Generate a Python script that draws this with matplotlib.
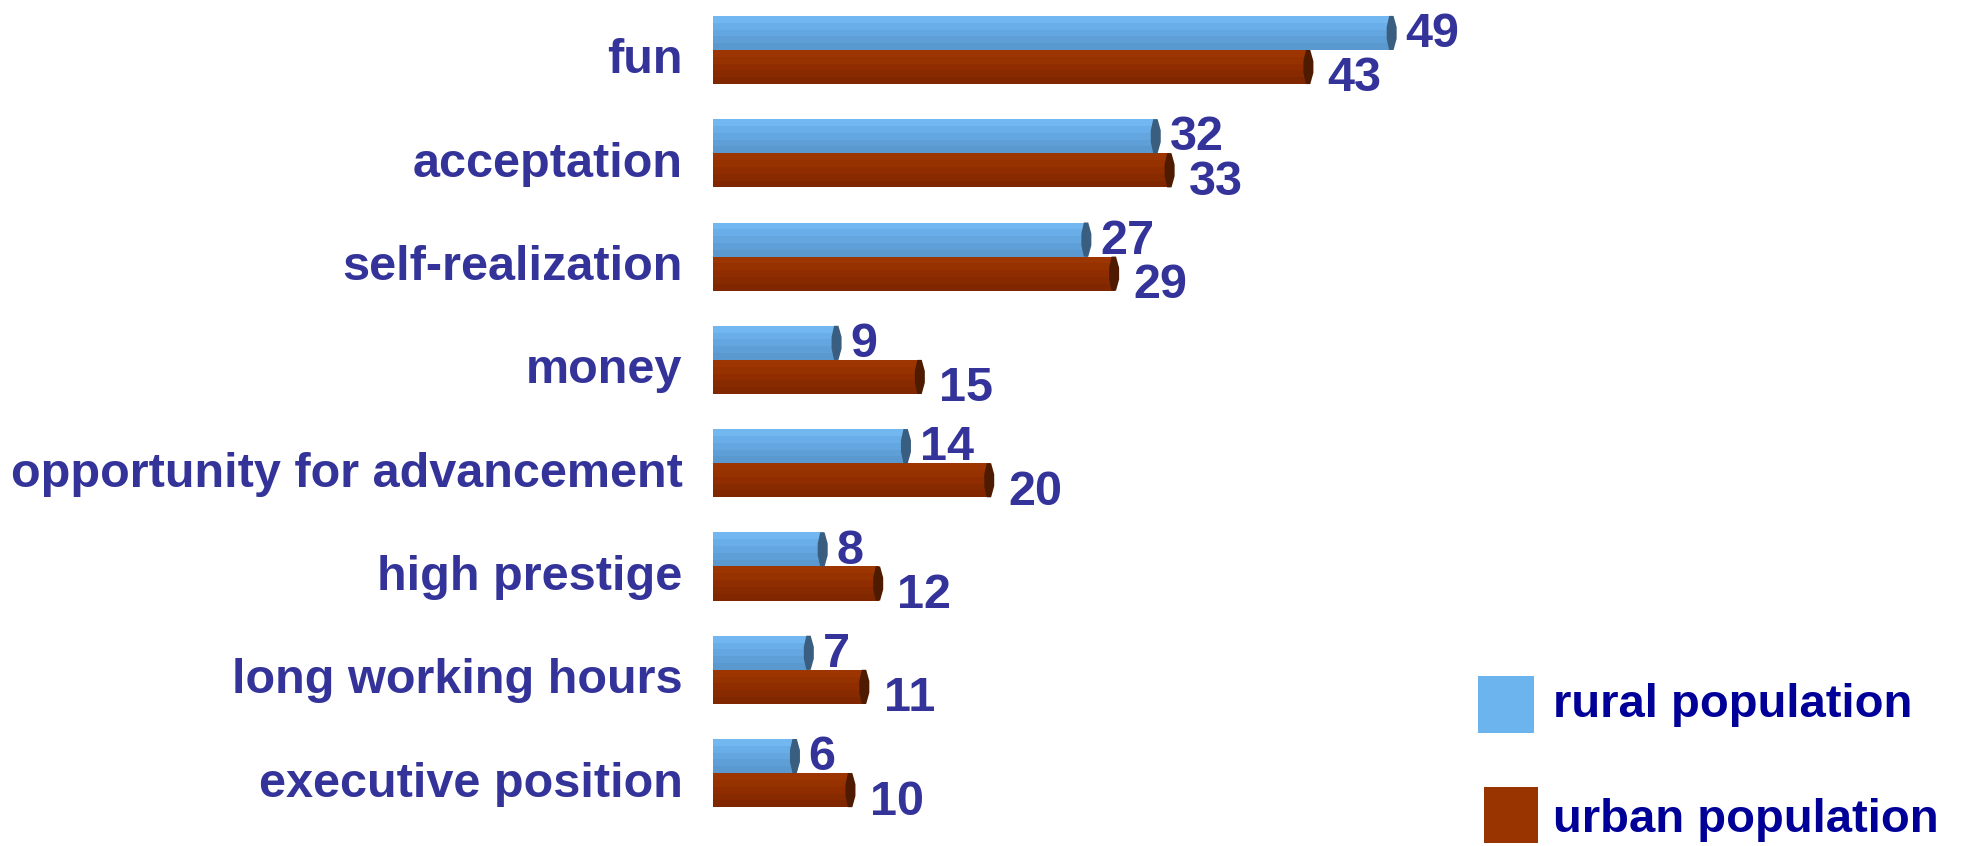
import matplotlib
matplotlib.use("Agg")
import matplotlib.pyplot as plt
import matplotlib.transforms as mtransforms
from matplotlib.patches import Polygon, Rectangle

# data
categories = ["fun", "acceptation", "self-realization", "money",
              "opportunity for advancement", "high prestige",
              "long working hours", "executive position"]
rural = [49, 32, 27, 9, 14, 8, 7, 6]
urban = [43, 33, 29, 15, 20, 12, 11, 10]
series_names = ["rural population", "urban population"]

plt.rcParams['font.family'] = ['Liberation Sans', 'DejaVu Sans']

label_col = '#333399'
legend_col = '#000099'
rural_shades = ['#72B7F0', '#69AEE8', '#63A6E0', '#5E9FD8', '#5A99D0']
urban_shades = ['#9C3500', '#963100', '#8F2D00', '#882A00', '#802700']
rural_cap = '#3A5E80'
urban_cap = '#4E1B00'

fig = plt.figure(figsize=(19.64, 8.46), dpi=100)
ax = fig.add_axes([0.363, 0.0, 0.537, 1.0])

h = 0.33


def prism_bar(ax, y_top, value, shades, cap):
    # stacked stripes give a shaded 3D look
    n = len(shades)
    sh = h / n
    for k, c in enumerate(shades):
        ax.barh(y_top + sh * (k + 0.5), value, height=sh, left=0,
                color=c, edgecolor='none', zorder=2)
    # end cap
    cw = 0.45
    pts = [(value - cw * 0.6, y_top), (value + cw * 0.1, y_top),
           (value + cw * 0.6, y_top + h * 0.33), (value + cw * 0.6, y_top + h * 0.67),
           (value + cw * 0.1, y_top + h), (value - cw * 0.6, y_top + h),
           (value - cw, y_top + h * 0.67), (value - cw, y_top + h * 0.33)]
    ax.add_patch(Polygon(pts, closed=True, facecolor=cap, edgecolor='none', zorder=3))


for i in range(len(categories)):
    prism_bar(ax, i - h, rural[i], rural_shades, rural_cap)
    prism_bar(ax, i, urban[i], urban_shades, urban_cap)
    ax.text(rural[i] + 0.9, i - h * 0.45, str(rural[i]), color=label_col,
            fontsize=35, fontweight='bold', va='center', ha='left')
    ax.text(urban[i] + 1.3, i + h * 0.85, str(urban[i]), color=label_col,
            fontsize=35, fontweight='bold', va='center', ha='left')

ax.set_xlim(0, 76)
ax.set_ylim(7.706, -0.484)
ax.set_yticks(range(len(categories)))
ax.set_yticklabels(categories, fontsize=35, fontweight='bold', color=label_col)
ax.tick_params(axis='y', length=0, pad=22)
shift = mtransforms.ScaledTranslation(0, -6 / 100, fig.dpi_scale_trans)
for lab in ax.get_yticklabels():
    lab.set_transform(lab.get_transform() + shift)
ax.set_xticks([])
for s in ax.spines.values():
    s.set_visible(False)

# legend drawn by hand
fig.patches.append(Rectangle((0.7525, 0.1336), 0.0285, 0.0674, facecolor='#6CB4EE',
                             edgecolor='none', transform=fig.transFigure))
fig.patches.append(Rectangle((0.7556, 0.0035), 0.0275, 0.066, facecolor='#993300',
                             edgecolor='none', transform=fig.transFigure))
fig.text(0.7907, 0.1667, series_names[0], color=legend_col, fontsize=34,
         fontweight='bold', va='center', ha='left')
fig.text(0.7907, 0.0307, series_names[1], color=legend_col, fontsize=34,
         fontweight='bold', va='center', ha='left')

fig.savefig('out.png', dpi=100)
